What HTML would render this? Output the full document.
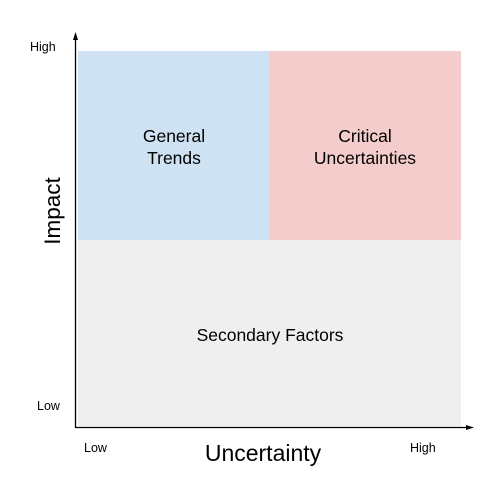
<!DOCTYPE html>
<html><head><meta charset="utf-8"><style>
body{margin:0;background:#fff;font-family:"Liberation Sans",sans-serif}
svg{display:block}
</style></head><body>
<svg width="490" height="487" viewBox="0 0 490 487">
<rect x="78" y="51" width="191" height="189" fill="#cfe2f3"/>
<rect x="269" y="51" width="192" height="189" fill="#f4cccc"/>
<rect x="78" y="240" width="383" height="186" fill="#efefef"/>
<line x1="75.5" y1="36" x2="75.5" y2="428" stroke="#000" stroke-width="1.3"/>
<polygon points="75.5,32 73,40 78,40" fill="#000"/>
<line x1="75" y1="427.5" x2="470" y2="427.5" stroke="#000" stroke-width="1.3"/>
<polygon points="474,427.5 466,425 466,430" fill="#000"/>
<g font-size="12.5" fill="#000">
<text x="30" y="51">High</text>
<text x="37" y="410">Low</text>
<text x="84" y="452">Low</text>
<text x="410" y="452">High</text>
</g>
<g font-size="17.5" fill="#000" text-anchor="middle">
<text x="174" y="142"><tspan x="174">General</tspan><tspan x="174" dy="22">Trends</tspan></text>
<text x="365" y="142"><tspan x="365">Critical</tspan><tspan x="365" dy="22">Uncertainties</tspan></text>
<text x="270" y="341">Secondary Factors</text>
</g>
<text x="263" y="461" font-size="23" text-anchor="middle">Uncertainty</text>
<text transform="translate(60,211) rotate(-90)" font-size="22.5" text-anchor="middle">Impact</text>
</svg>
</body></html>
